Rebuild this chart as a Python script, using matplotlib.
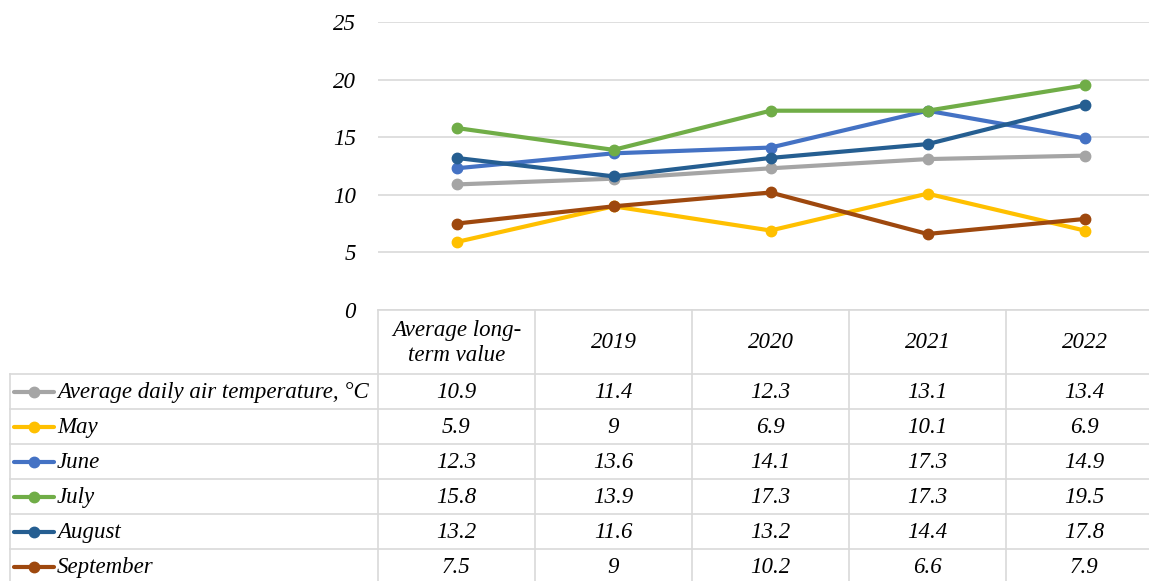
import matplotlib
matplotlib.use("Agg")
import matplotlib.pyplot as plt
from matplotlib.lines import Line2D

categories = ["Average long-\nterm value", "2019", "2020", "2021", "2022"]
series_names = ["Average daily air temperature, °C", "May", "June", "July", "August", "September"]
avg_temp = [10.9, 11.4, 12.3, 13.1, 13.4]
may = [5.9, 9, 6.9, 10.1, 6.9]
june = [12.3, 13.6, 14.1, 17.3, 14.9]
july = [15.8, 13.9, 17.3, 17.3, 19.5]
august = [13.2, 11.6, 13.2, 14.4, 17.8]
september = [7.5, 9, 10.2, 6.6, 7.9]
series_values = [avg_temp, may, june, july, august, september]
colors = ["#A5A5A5", "#FFC000", "#4472C4", "#70AD47", "#255E91", "#9E480E"]
yticks = [0, 5, 10, 15, 20, 25]

W, H = 1149, 581
fig = plt.figure(figsize=(W / 100, H / 100), dpi=100)
plt.rcParams['font.family'] = ['Liberation Serif', 'DejaVu Serif']
FS = 16.5

x0, colw = 378, 157
y_zero, y_top = 310, 22
ax = fig.add_axes([x0 / W, 1 - y_zero / H, 5 * colw / W, (y_zero - y_top) / H])
ax.set_xlim(-0.5, 4.5)
ax.set_ylim(0, 25)
for s in ax.spines.values():
    s.set_visible(False)
ax.set_yticks(yticks)
ax.set_yticklabels([str(t) for t in yticks], fontsize=FS, style='italic')
ax.tick_params(axis='y', length=0, pad=16)
ax.set_xticks([])
ax.grid(axis='y', color='#D9D9D9', lw=1.2)
ax.set_axisbelow(True)
xs = list(range(len(categories)))
for vals, c in zip(series_values, colors):
    ax.plot(xs, vals, color=c, lw=3, marker='o', ms=7.5, solid_capstyle='round', clip_on=False)

# table
grid_c = '#D9D9D9'
def fx(px): return px / W
def fy(py): return 1 - py / H
header_top, header_bot = 310, 374
row_h = 35
rows_top = [header_bot + i * row_h for i in range(len(series_names))]
table_left = 10
right = x0 + 5 * colw

def hline(py, xa, xb):
    fig.add_artist(Line2D([fx(xa), fx(xb)], [fy(py), fy(py)], color=grid_c, lw=1.2))
def vline(px, ya, yb):
    fig.add_artist(Line2D([fx(px), fx(px)], [fy(ya), fy(yb)], color=grid_c, lw=1.2))

hline(header_top, x0, right)
hline(header_bot, table_left, right)
for rt in rows_top:
    hline(rt + row_h, table_left, right)
vline(table_left, header_bot, H + 5)
for i in range(6):
    vline(x0 + i * colw, header_top, H + 5)

for i, cat in enumerate(categories):
    fig.text(fx(x0 + (i + 0.5) * colw), fy((header_top + header_bot) / 2 + 1), cat,
             ha='center', va='center', fontsize=FS, style='italic', linespacing=1.2)

for r, (name, vals, c) in enumerate(zip(series_names, series_values, colors)):
    cy = rows_top[r] + row_h / 2
    fig.add_artist(Line2D([fx(14), fx(54)], [fy(cy), fy(cy)], color=c, lw=3,
                          solid_capstyle='round'))
    fig.add_artist(Line2D([fx(34)], [fy(cy)], color=c, marker='o', ms=7.5))
    fig.text(fx(57), fy(cy + 1), name, ha='left', va='center', fontsize=FS, style='italic')
    for i, v in enumerate(vals):
        fig.text(fx(x0 + (i + 0.5) * colw), fy(cy + 1), f"{v:g}", ha='center', va='center',
                 fontsize=FS, style='italic')

fig.savefig("out.png", dpi=100)
